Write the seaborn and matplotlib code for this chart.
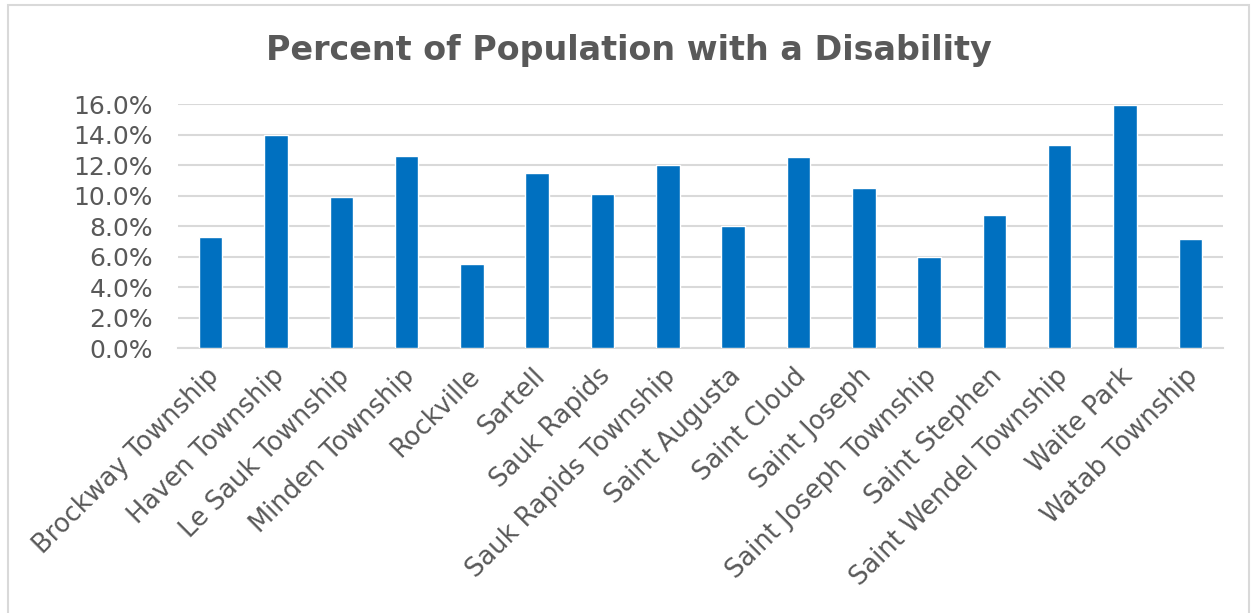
import matplotlib
matplotlib.use("Agg")
import matplotlib.pyplot as plt
import matplotlib.transforms as mtransforms
import seaborn as sns
import pandas as pd
from matplotlib.patches import Rectangle
from matplotlib.ticker import FuncFormatter, MultipleLocator

places = ["Brockway Township", "Haven Township", "Le Sauk Township", "Minden Township",
          "Rockville", "Sartell", "Sauk Rapids", "Sauk Rapids Township", "Saint Augusta",
          "Saint Cloud", "Saint Joseph", "Saint Joseph Township", "Saint Stephen",
          "Saint Wendel Township", "Waite Park", "Watab Township"]
pct_disability = [7.3, 14.0, 9.9, 12.6, 5.5, 11.5, 10.1, 12.0, 8.0, 12.5, 10.5, 6.0,
                  8.75, 13.3, 15.95, 7.15]

df = pd.DataFrame({"place": places, "pct": pct_disability})

sns.set_theme(style="white")
plt.rcParams["font.family"] = ["DejaVu Sans"]
TXT = "#595959"
GRID = "#D9D9D9"

fig = plt.figure(figsize=(12.52, 6.13), dpi=100)
ax = fig.add_axes([0.1422, 0.4323, 0.8346, 0.3980])

sns.barplot(data=df, x="place", y="pct", color="#0070C0", width=0.36,
            saturation=1, ax=ax, zorder=3)

ax.set_ylim(0, 16)
ax.set_xlim(-0.5, len(places) - 0.5)
ax.yaxis.set_major_locator(MultipleLocator(2))
ax.yaxis.set_major_formatter(FuncFormatter(lambda v, p: f"{v:.1f}%"))
ax.grid(axis="y", color=GRID, linewidth=1.5, zorder=0)
ax.set_axisbelow(True)
for s in ["top", "right", "left"]:
    ax.spines[s].set_visible(False)
ax.spines["bottom"].set_color(GRID)
ax.spines["bottom"].set_linewidth(1.5)
ax.set_xlabel("")
ax.set_ylabel("")
ax.tick_params(axis="y", length=0, pad=18, labelsize=18, labelcolor=TXT)
ax.tick_params(axis="x", length=0, pad=11, labelsize=18.5, labelcolor=TXT)
offset = mtransforms.ScaledTranslation(-5 / 100, 0, fig.dpi_scale_trans)
for lbl in ax.get_xticklabels():
    lbl.set_rotation(45)
    lbl.set_ha("right")
    lbl.set_va("top")
    lbl.set_rotation_mode("anchor")
    lbl.set_transform(lbl.get_transform() + offset)

fig.text(0.502, 0.918, "Percent of Population with a Disability", ha="center",
         va="center", fontsize=24, fontweight="bold", color=TXT)

fig.patches.append(Rectangle((8 / 1252, -0.01), (1252 - 8) / 1252 - 0.002, 1 - 5 / 613 + 0.01,
                             transform=fig.transFigure, fill=False,
                             edgecolor=GRID, linewidth=1.5))

fig.savefig("out.png", dpi=100)
